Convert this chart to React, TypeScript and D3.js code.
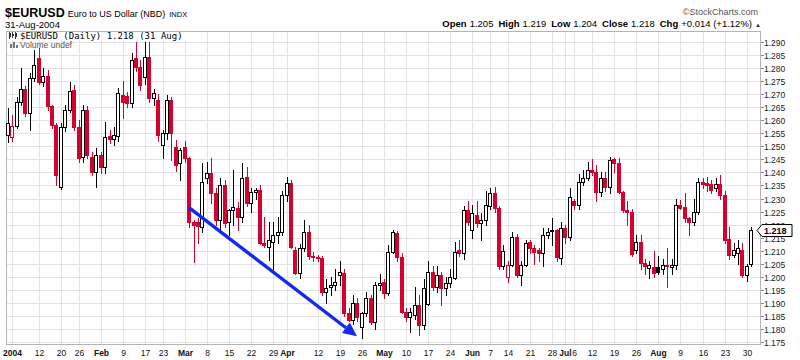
import React, { useRef, useEffect } from 'react';
import * as d3 from 'd3';

type OHLC = [number, number, number, number]; // open, high, low, close

const firstDay = '2003-12-31';
const lastDay = '2004-08-31';
const holidays = ['2004-01-01', '2004-01-19', '2004-02-16', '2004-05-31', '2004-06-11', '2004-07-05'];

const dec03: OHLC[] = [[1.2543, 1.2647, 1.2516, 1.2589]];
const jan04: OHLC[] = [
  [1.2536, 1.2620, 1.2520, 1.2578], [1.2578, 1.2689, 1.2570, 1.2670], [1.2670, 1.2800, 1.2660, 1.2720],
  [1.2720, 1.2731, 1.2618, 1.2628], [1.2628, 1.2781, 1.2563, 1.2762], [1.2762, 1.2869, 1.2750, 1.2812],
  [1.2839, 1.2877, 1.2740, 1.2747], [1.2747, 1.2800, 1.2730, 1.2770], [1.2770, 1.2793, 1.2640, 1.2655],
  [1.2655, 1.2660, 1.2570, 1.2582], [1.2582, 1.2590, 1.2352, 1.2390], [1.2344, 1.2590, 1.2335, 1.2574],
  [1.2574, 1.2658, 1.2560, 1.2639], [1.2639, 1.2747, 1.2630, 1.2712], [1.2716, 1.2735, 1.2563, 1.2574],
  [1.2574, 1.2601, 1.2440, 1.2455], [1.2459, 1.2660, 1.2440, 1.2639], [1.2639, 1.2655, 1.2455, 1.2467],
  [1.2459, 1.2480, 1.2390, 1.2402], [1.2402, 1.2494, 1.2344, 1.2467],
];
const feb04: OHLC[] = [
  [1.2467, 1.2480, 1.2398, 1.2421], [1.2421, 1.2593, 1.2398, 1.2536], [1.2540, 1.2563, 1.2513, 1.2530],
  [1.2530, 1.2574, 1.2505, 1.2545], [1.2540, 1.2724, 1.2520, 1.2704], [1.2697, 1.2750, 1.2610, 1.2670],
  [1.2693, 1.2710, 1.2650, 1.2666], [1.2666, 1.2858, 1.2651, 1.2831], [1.2839, 1.2900, 1.2790, 1.2805],
  [1.2805, 1.2830, 1.2716, 1.2735], [1.2766, 1.2900, 1.2740, 1.2842], [1.2842, 1.2900, 1.2670, 1.2685],
  [1.2685, 1.2720, 1.2660, 1.2704], [1.2678, 1.2700, 1.2520, 1.2545], [1.2505, 1.2563, 1.2455, 1.2551],
  [1.2551, 1.2697, 1.2530, 1.2678], [1.2678, 1.2690, 1.2448, 1.2551], [1.2497, 1.2524, 1.2405, 1.2428],
  [1.2436, 1.2494, 1.2371, 1.2486],
];
const mar04: OHLC[] = [
  [1.2497, 1.2520, 1.2440, 1.2455], [1.2455, 1.2460, 1.2191, 1.2210], [1.2210, 1.2218, 1.2056, 1.2198],
  [1.2210, 1.2225, 1.2129, 1.2195], [1.2191, 1.2436, 1.2172, 1.2363], [1.2379, 1.2440, 1.2360, 1.2398],
  [1.2398, 1.2455, 1.2283, 1.2321], [1.2321, 1.2340, 1.2200, 1.2218], [1.2218, 1.2379, 1.2179, 1.2352],
  [1.2352, 1.2370, 1.2190, 1.2206], [1.2210, 1.2260, 1.2160, 1.2256], [1.2256, 1.2409, 1.2200, 1.2267],
  [1.2264, 1.2287, 1.2179, 1.2229], [1.2229, 1.2436, 1.2210, 1.2379], [1.2382, 1.2420, 1.2270, 1.2283],
  [1.2283, 1.2340, 1.2250, 1.2325], [1.2325, 1.2340, 1.2300, 1.2333], [1.2333, 1.2350, 1.2125, 1.2129],
  [1.2129, 1.2230, 1.2114, 1.2122], [1.2114, 1.2210, 1.2064, 1.2141], [1.2133, 1.2210, 1.2030, 1.2160],
  [1.2160, 1.2230, 1.2130, 1.2170], [1.2170, 1.2330, 1.2160, 1.2313],
];
const apr04: OHLC[] = [
  [1.2313, 1.2382, 1.2290, 1.2359], [1.2359, 1.2370, 1.2110, 1.2114], [1.2103, 1.2114, 1.2010, 1.2014],
  [1.2014, 1.2125, 1.1995, 1.2110], [1.2110, 1.2218, 1.2100, 1.2172], [1.2172, 1.2200, 1.2070, 1.2080],
  [1.2080, 1.2095, 1.2060, 1.2075], [1.2076, 1.2085, 1.2060, 1.2072], [1.2072, 1.2080, 1.1930, 1.1941],
  [1.1941, 1.1990, 1.1900, 1.1957], [1.1960, 1.2000, 1.1930, 1.1968], [1.1970, 1.2030, 1.1950, 1.1980],
  [1.2007, 1.2060, 1.1968, 1.2018], [1.2014, 1.2030, 1.1850, 1.1861], [1.1861, 1.1880, 1.1830, 1.1834],
  [1.1834, 1.1930, 1.1820, 1.1899], [1.1899, 1.1920, 1.1830, 1.1845], [1.1807, 1.1865, 1.1765, 1.1861],
  [1.1861, 1.1940, 1.1850, 1.1918], [1.1918, 1.1930, 1.1820, 1.1826], [1.1826, 1.1980, 1.1800, 1.1968],
  [1.1968, 1.2010, 1.1950, 1.1976],
];
const may04: OHLC[] = [
  [1.1980, 1.1990, 1.1920, 1.1938], [1.1938, 1.2120, 1.1930, 1.2095], [1.2095, 1.2180, 1.2090, 1.2172],
  [1.2168, 1.2175, 1.2060, 1.2076], [1.2076, 1.2090, 1.1860, 1.1865], [1.1865, 1.1880, 1.1830, 1.1845],
  [1.1845, 1.1880, 1.1790, 1.1865], [1.1853, 1.1960, 1.1840, 1.1892], [1.1892, 1.1930, 1.1775, 1.1815],
  [1.1815, 1.1990, 1.1800, 1.1957], [1.1895, 1.2060, 1.1890, 1.2018], [1.2018, 1.2040, 1.1950, 1.1961],
  [1.1961, 1.2040, 1.1940, 1.2007], [1.2007, 1.2020, 1.1890, 1.1957], [1.1957, 1.2000, 1.1930, 1.1976],
  [1.1976, 1.2030, 1.1960, 1.1999], [1.1995, 1.2133, 1.1990, 1.2095], [1.2103, 1.2140, 1.2080, 1.2091],
  [1.2091, 1.2270, 1.2070, 1.2256], [1.2256, 1.2290, 1.2200, 1.2210],
];
const jun04: OHLC[] = [
  [1.2180, 1.2275, 1.2150, 1.2245], [1.2237, 1.2290, 1.2190, 1.2206], [1.2206, 1.2244, 1.2141, 1.2218],
  [1.2218, 1.2330, 1.2200, 1.2275], [1.2270, 1.2340, 1.2260, 1.2321], [1.2321, 1.2344, 1.2250, 1.2264],
  [1.2264, 1.2270, 1.2030, 1.2040], [1.2040, 1.2120, 1.2030, 1.2100], [1.2000, 1.2060, 1.1980, 1.2045],
  [1.2045, 1.2170, 1.2040, 1.2152], [1.2152, 1.2165, 1.2000, 1.2007], [1.2007, 1.2060, 1.1970, 1.2045],
  [1.2045, 1.2140, 1.2040, 1.2129], [1.2133, 1.2140, 1.2090, 1.2110], [1.2110, 1.2120, 1.2050, 1.2095],
  [1.2103, 1.2110, 1.2060, 1.2091], [1.2091, 1.2187, 1.2040, 1.2160], [1.2160, 1.2187, 1.2150, 1.2172],
  [1.2180, 1.2225, 1.2120, 1.2176], [1.2179, 1.2185, 1.2060, 1.2076], [1.2072, 1.2210, 1.2050, 1.2187],
];
const jul04: OHLC[] = [
  [1.2187, 1.2200, 1.2130, 1.2152], [1.2152, 1.2340, 1.2140, 1.2306], [1.2290, 1.2300, 1.2260, 1.2275],
  [1.2275, 1.2395, 1.2260, 1.2363], [1.2363, 1.2409, 1.2350, 1.2379], [1.2379, 1.2440, 1.2370, 1.2409],
  [1.2409, 1.2450, 1.2390, 1.2400], [1.2402, 1.2428, 1.2290, 1.2325], [1.2325, 1.2400, 1.2310, 1.2379],
  [1.2379, 1.2400, 1.2330, 1.2344], [1.2344, 1.2460, 1.2320, 1.2448], [1.2450, 1.2455, 1.2400, 1.2436],
  [1.2436, 1.2455, 1.2320, 1.2325], [1.2325, 1.2330, 1.2250, 1.2256], [1.2256, 1.2290, 1.2200, 1.2250],
  [1.2250, 1.2260, 1.2080, 1.2087], [1.2103, 1.2160, 1.2090, 1.2133], [1.2133, 1.2160, 1.2030, 1.2053],
  [1.2053, 1.2070, 1.2010, 1.2040], [1.2035, 1.2060, 1.1995, 1.2045], [1.2037, 1.2100, 1.2000, 1.2014],
];
const aug04: OHLC[] = [
  [1.2037, 1.2080, 1.2010, 1.2020], [1.2030, 1.2070, 1.2010, 1.2045], [1.2045, 1.2110, 1.1960, 1.2040],
  [1.2037, 1.2070, 1.2010, 1.2045], [1.2045, 1.2300, 1.2030, 1.2275], [1.2275, 1.2295, 1.2260, 1.2264],
  [1.2267, 1.2320, 1.2210, 1.2225], [1.2225, 1.2230, 1.2160, 1.2210], [1.2210, 1.2300, 1.2200, 1.2248],
  [1.2248, 1.2380, 1.2240, 1.2363], [1.2363, 1.2380, 1.2340, 1.2355], [1.2360, 1.2382, 1.2330, 1.2350],
  [1.2355, 1.2370, 1.2320, 1.2333], [1.2340, 1.2380, 1.2330, 1.2356], [1.2356, 1.2390, 1.2300, 1.2313],
  [1.2313, 1.2330, 1.2130, 1.2141], [1.2145, 1.2190, 1.2070, 1.2083], [1.2083, 1.2130, 1.2075, 1.2101],
  [1.2090, 1.2140, 1.2050, 1.2110], [1.2103, 1.2130, 1.2000, 1.2007], [1.2007, 1.2050, 1.1985, 1.2040],
  [1.2050, 1.2190, 1.2040, 1.2180],
];
const allMonths = [dec03, jan04, feb04, mar04, apr04, may04, jun04, jul04, aug04];

const xTickDays = [
  '2004-01-02', '2004-01-12', '2004-01-20', '2004-01-26', '2004-02-02', '2004-02-09', '2004-02-17', '2004-02-23',
  '2004-03-01', '2004-03-08', '2004-03-15', '2004-03-22', '2004-03-29', '2004-04-01', '2004-04-12', '2004-04-19',
  '2004-04-26', '2004-05-03', '2004-05-10', '2004-05-17', '2004-05-24', '2004-06-01', '2004-06-07', '2004-06-14',
  '2004-06-21', '2004-06-28', '2004-07-01', '2004-07-06', '2004-07-12', '2004-07-19', '2004-07-26', '2004-08-02',
  '2004-08-09', '2004-08-16', '2004-08-23', '2004-08-30',
];
const xTickLabels = [
  '2004', '12', '20', '26', 'Feb', '9', '17', '23', 'Mar', '8', '15', '22', '29', 'Apr', '12', '19',
  '26', 'May', '10', '17', '24', 'Jun', '7', '14', '21', '28', 'Jul', '6', '12', '19', '26', 'Aug',
  '9', '16', '23', '30',
];
const boldLabels = ['2004', 'Feb', 'Mar', 'Apr', 'May', 'Jun', 'Jul', 'Aug'];

const yTicks = [1.175, 1.18, 1.185, 1.19, 1.195, 1.2, 1.205, 1.21, 1.215, 1.22, 1.225, 1.23,
  1.235, 1.24, 1.245, 1.25, 1.255, 1.26, 1.265, 1.27, 1.275, 1.28, 1.285, 1.29];

// hand drawn trend arrow (date, price)
const arrowFrom: [string, number] = ['2004-03-02', 1.2265];
const arrowTo: [string, number] = ['2004-04-23', 1.1772];

const quoteLabels = ['Open', 'High', 'Low', 'Close', 'Chg'];
const quoteValues = ['1.205', '1.219', '1.204', '1.218', '+0.014 (+1.12%)'];
const lastClose = 1.218;

const RED = '#d4002e';
const GRID = '#e3e3e3';
const SANS = "'Liberation Sans', Arial, sans-serif";

const App = () => {
  const svgRef = useRef<SVGSVGElement>(null);

  useEffect(() => {
    document.body.style.margin = '0';
    const svg = d3.select(svgRef.current);
    svg.selectAll('*').remove();

    const fmt = d3.utcFormat('%Y-%m-%d');
    const days = d3.utcDay
      .range(new Date(firstDay), d3.utcDay.offset(new Date(lastDay), 1))
      .filter(d => d.getUTCDay() % 6 !== 0)
      .map(fmt)
      .filter(s => !holidays.includes(s));
    const rows = allMonths.flat();
    const data = days.slice(0, rows.length).map((date, i) => ({
      date, open: rows[i][0], high: rows[i][1], low: rows[i][2], close: rows[i][3],
      prev: i > 0 ? rows[i - 1][3] : rows[i][0],
    }));

    const left = 6, right = 760, top = 31, bottom = 344;
    const x = d3.scaleBand().domain(days).range([6, 754]).padding(0);
    const y = d3.scaleLinear().domain([1.175, 1.29]).range([342, 42]);
    const cx = (d: string) => Math.floor((x(d) ?? 0) + x.bandwidth() / 2);

    svg.append('rect').attr('width', 800).attr('height', 360).attr('fill', '#fff');

    // grid
    svg.append('g').selectAll('line').data(yTicks).enter().append('line')
      .attr('x1', left).attr('x2', right + 3)
      .attr('y1', d => Math.round(y(d)) + 0.5).attr('y2', d => Math.round(y(d)) + 0.5)
      .attr('stroke', GRID);
    svg.append('g').selectAll('line').data(xTickDays).enter().append('line')
      .attr('x1', d => cx(d) + 0.5).attr('x2', d => cx(d) + 0.5)
      .attr('y1', top).attr('y2', bottom)
      .attr('stroke', GRID);
    // small ticks on the price axis
    svg.append('g').selectAll('line').data(yTicks).enter().append('line')
      .attr('x1', right).attr('x2', right + 4)
      .attr('y1', d => Math.round(y(d)) + 0.5).attr('y2', d => Math.round(y(d)) + 0.5)
      .attr('stroke', '#888');

    svg.append('rect')
      .attr('x', left + 0.5).attr('y', top + 0.5)
      .attr('width', right - left).attr('height', bottom - top)
      .attr('fill', 'none').attr('stroke', '#b4b4b4');

    // candles
    const candles = svg.append('g').attr('shape-rendering', 'crispEdges');
    data.forEach(d => {
      const color = d.close < d.prev ? RED : '#000';
      const hollow = d.close > d.open;
      const px = cx(d.date);
      candles.append('line')
        .attr('x1', px + 0.5).attr('x2', px + 0.5)
        .attr('y1', Math.round(y(d.high))).attr('y2', Math.round(y(d.low)) + 1)
        .attr('stroke', color);
      const t = Math.round(y(Math.max(d.open, d.close)));
      const b = Math.round(y(Math.min(d.open, d.close)));
      candles.append('rect')
        .attr('x', px - 1.5).attr('y', t + 0.5)
        .attr('width', 3).attr('height', Math.max(b - t, 1))
        .attr('fill', hollow ? '#fff' : color)
        .attr('stroke', color);
    });

    // trend arrow
    const ax1 = cx(arrowFrom[0]), ay1 = y(arrowFrom[1]);
    const ax2 = cx(arrowTo[0]), ay2 = y(arrowTo[1]);
    const ang = Math.atan2(ay2 - ay1, ax2 - ax1);
    const headLen = 14, headW = 6.5;
    const bx = ax2 - headLen * Math.cos(ang), by = ay2 - headLen * Math.sin(ang);
    svg.append('line')
      .attr('x1', ax1).attr('y1', ay1).attr('x2', bx).attr('y2', by)
      .attr('stroke', '#1428f0').attr('stroke-width', 3.4);
    svg.append('path')
      .attr('d', `M${ax2},${ay2} L${bx + headW * Math.sin(ang)},${by - headW * Math.cos(ang)} L${bx - headW * Math.sin(ang)},${by + headW * Math.cos(ang)} Z`)
      .attr('fill', '#1428f0');

    // legend inside plot
    svg.append('rect').attr('x', 7).attr('y', 32).attr('width', 180).attr('height', 8).attr('fill', '#fff');
    const icon = svg.append('g').attr('shape-rendering', 'crispEdges');
    [[9, 33, 37, 32, 39], [12, 34, 36, 32, 38], [15, 33, 37, 32, 39]].forEach(([ix, bt, bb, wt, wb]) => {
      icon.append('line').attr('x1', ix + 0.5).attr('x2', ix + 0.5).attr('y1', wt).attr('y2', wb).attr('stroke', '#333');
      icon.append('rect').attr('x', ix).attr('y', bt).attr('width', 1.5).attr('height', bb - bt).attr('fill', '#333');
    });
    svg.append('text').attr('x', 20).attr('y', 39)
      .attr('font-family', "'DejaVu Sans Mono', monospace").attr('font-size', 9).attr('fill', '#000')
      .text('$EURUSD (Daily) 1.218 (31 Aug)');
    [[10, 44], [13, 42], [16, 45]].forEach(([vx, vy]) => {
      svg.append('rect').attr('x', vx).attr('y', vy).attr('width', 2).attr('height', 48 - vy).attr('fill', '#777');
    });
    svg.append('text').attr('x', 20).attr('y', 48)
      .attr('font-family', SANS).attr('font-size', 8.5).attr('fill', '#555')
      .text('Volume undef');

    // price axis labels
    svg.append('g').selectAll('text').data(yTicks).enter().append('text')
      .attr('x', 764).attr('y', d => Math.round(y(d)) + 3.5)
      .attr('font-family', SANS).attr('font-size', 8.5).attr('fill', '#222')
      .text(d => d3.format('.3f')(d));

    // last price tag
    const ty = Math.round(y(lastClose)) + 0.5;
    svg.append('path')
      .attr('d', `M757,${ty} L762,${ty - 6} L792,${ty - 6} L792,${ty + 6} L762,${ty + 6} Z`)
      .attr('fill', '#fff').attr('stroke', '#000');
    svg.append('text').attr('x', 764).attr('y', ty + 3.5)
      .attr('font-family', SANS).attr('font-size', 9).attr('font-weight', 'bold').attr('fill', '#000')
      .text(d3.format('.3f')(lastClose));

    // date axis labels
    svg.append('g').selectAll('text').data(xTickDays).enter().append('text')
      .attr('x', d => cx(d) + 0.5).attr('y', 356)
      .attr('text-anchor', 'middle')
      .attr('font-family', SANS).attr('font-size', 8.5)
      .attr('font-weight', (d, i) => (boldLabels.includes(xTickLabels[i]) ? 'bold' : 'normal'))
      .attr('fill', '#111')
      .text((d, i) => xTickLabels[i]);

    // header
    const h1 = svg.append('text').attr('x', 5).attr('y', 17).attr('font-family', SANS).attr('fill', '#000');
    h1.append('tspan').attr('font-size', 12.5).attr('font-weight', 'bold').text('$EURUSD');
    h1.append('tspan').attr('dx', 3).attr('font-size', 9).text('Euro to US Dollar (NBD)');
    h1.append('tspan').attr('dx', 4).attr('font-size', 7.5).text('INDX');
    svg.append('text').attr('x', 5).attr('y', 28).attr('font-family', SANS).attr('font-size', 9.5)
      .text('31-Aug-2004');

    svg.append('text').attr('x', 758).attr('y', 15).attr('text-anchor', 'end')
      .attr('font-family', SANS).attr('font-size', 9).attr('fill', '#555')
      .text('\u00a9StockCharts.com');
    const q = svg.append('text').attr('x', 752).attr('y', 27).attr('text-anchor', 'end')
      .attr('font-family', SANS).attr('font-size', 9.5).attr('fill', '#000');
    quoteLabels.forEach((lab, i) => {
      q.append('tspan').attr('dx', i === 0 ? 0 : 5).attr('font-weight', 'bold').text(lab);
      q.append('tspan').attr('dx', 3).text(quoteValues[i]);
    });
    svg.append('text').attr('x', 755).attr('y', 27)
      .attr('font-family', SANS).attr('font-size', 6).attr('fill', '#333')
      .text('\u25b2');
  }, []);

  return <svg ref={svgRef} width={800} height={360} style={{ display: 'block' }} />;
};

export default App;
